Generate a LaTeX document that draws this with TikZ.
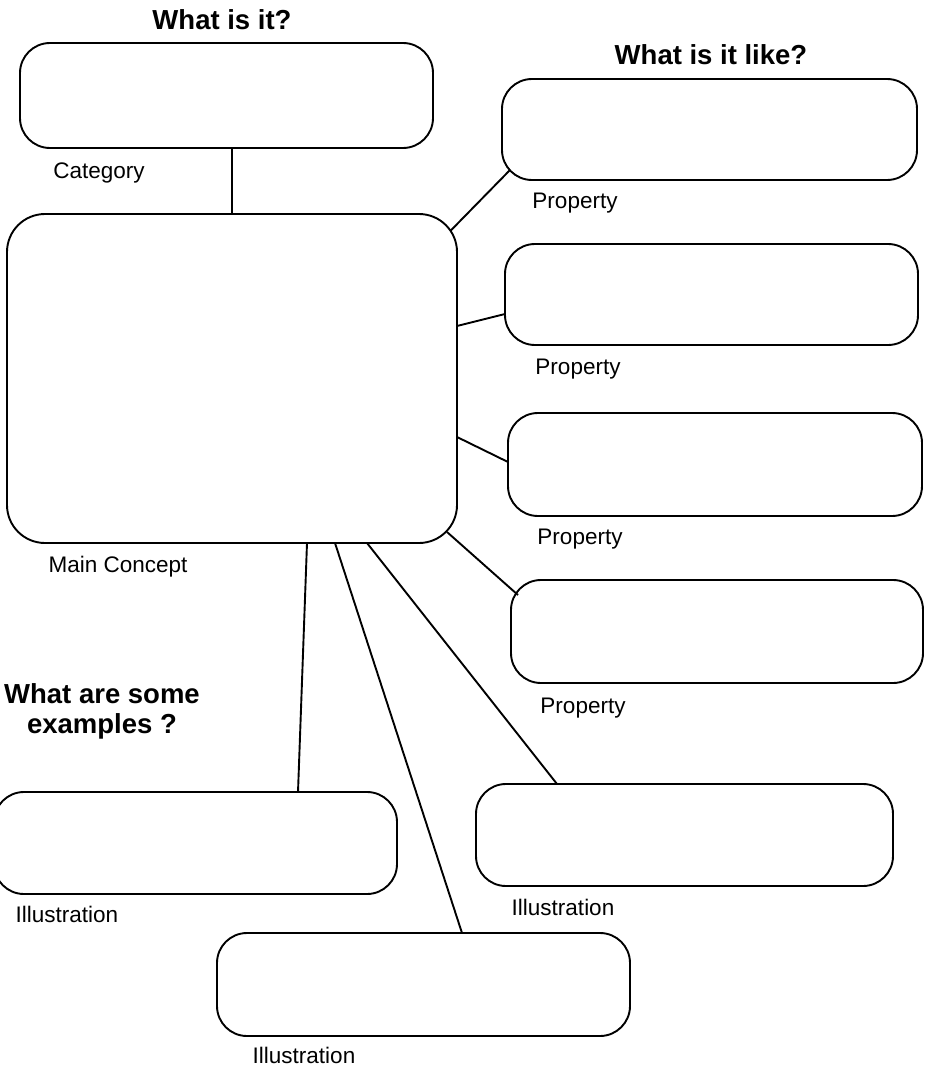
\documentclass[tikz,border=0pt]{standalone}
\usepackage{fontspec}
\setmainfont{Liberation Sans}
\usetikzlibrary{calc}
\tikzset{
  box/.style={draw, line width=1.9pt, rounded corners=30pt, inner sep=0pt, outer sep=0pt},
  bigbox/.style={box, rounded corners=38pt},
  lbl/.style={anchor=base, inner sep=0pt, font=\fontsize{22.5}{27}\selectfont},
  ttl/.style={anchor=base, inner sep=0pt, font=\bfseries\fontsize{27.5}{32}\selectfont},
  link/.style={line width=1.9pt}
}
\begin{document}
\begin{tikzpicture}[x=1pt,y=-1pt]
\useasboundingbox (0,0) rectangle (924,1070);
% boxes
\node[box, minimum width=413pt, minimum height=105pt] (cat) at (226.5,95.5) {};
\node[bigbox, minimum width=450pt, minimum height=329pt] (main) at (232,378.5) {};
\node[box, minimum width=415pt, minimum height=101pt] (p1) at (709.5,129.5) {};
\node[box, minimum width=413pt, minimum height=101pt] (p2) at (711.5,294.5) {};
\node[box, minimum width=414pt, minimum height=103pt] (p3) at (715,464.5) {};
\node[box, minimum width=412pt, minimum height=103pt] (p4) at (717,631.5) {};
\node[box, minimum width=403pt, minimum height=102pt] (i1) at (195.5,843) {};
\node[box, minimum width=417pt, minimum height=102pt] (i3) at (684.5,835) {};
\node[box, minimum width=413pt, minimum height=103pt] (i2) at (423.5,984.5) {};
% titles
\node[ttl] (t1) at (222,30) {What is it?};
\node[ttl] (t2) at (711,65) {What is it like?};
\node[ttl] (t3) at (102,703) {What are some};
\node[ttl] (t4) at (102,733) {examples ?};
% labels
\node[lbl] (lcat) at (99,178) {Category};
\node[lbl] (lmain) at (118,572) {Main Concept};
\node[lbl] (lp1) at (575,208) {Property};
\node[lbl] (lp2) at (578,374) {Property};
\node[lbl] (lp3) at (580,544) {Property};
\node[lbl] (lp4) at (583,713) {Property};
\node[lbl] (li1) at (67,922) {Illustration};
\node[lbl] (li3) at (563,915) {Illustration};
\node[lbl] (li2) at (304,1063) {Illustration};
% connectors
\draw[link] (main.north) -- (main.north |- cat.south);
\draw[link] ($(main.north east)+(-6.5,16.8)$) -- ($(p1.south west)+(8,-10)$);
\draw[link] ($(main.north east)+(0,112)$) -- ($(p2.north west)+(0,70)$);
\draw[link] ($(main.north east)+(0,223)$) -- ($(p3.north west)+(0,49)$);
\draw[link] ($(main.south east)+(-10,-11)$) -- ($(p4.north west)+(7,15)$);
\draw[link] ($(main.south west)+(300,0)$) -- ($(i1.north west)+(304,0)$);
\draw[link] ($(main.south west)+(328,0)$) -- ($(i2.north west)+(245,0)$);
\draw[link] ($(main.south west)+(360,0)$) -- ($(i3.north west)+(81,0)$);
\end{tikzpicture}
\end{document}
